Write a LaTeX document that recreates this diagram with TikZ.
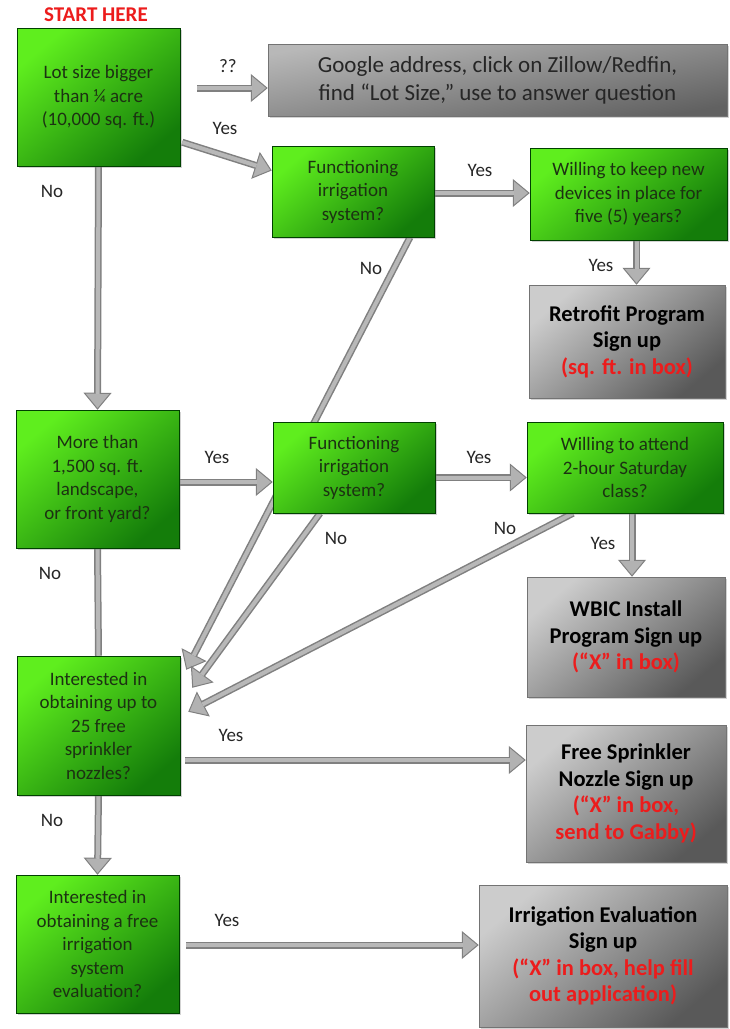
\documentclass[tikz,border=0pt]{standalone}
\usepackage{fontspec}
\setmainfont{Carlito}
\usetikzlibrary{arrows.meta, shadows, backgrounds}

\definecolor{gbright}{RGB}{95,238,30}
\definecolor{gdark}{RGB}{20,125,10}
\definecolor{gtext}{RGB}{28,50,18}
\definecolor{signred}{RGB}{236,28,28}
\newcommand{\signnote}[1]{\textcolor{signred}{#1}}

\begin{document}
\begin{tikzpicture}[
    x=1pt, y=-1pt,
    % Fragen: gruene Kaesten mit Verlauf
    question/.style={draw=green!25!black, line width=0.5pt,
                     top color=gbright, bottom color=gdark, shading angle=40,
                     drop shadow={shadow xshift=2pt, shadow yshift=-2pt, opacity=0.35},
                     minimum width=163pt, minimum height=138pt, inner sep=0pt,
                     align=center, text=gtext, font=\fontsize{19}{23.5}\selectfont},
    % Anmeldung: graue Kaesten
    signup/.style={draw=black!55, line width=0.5pt,
                   top color=black!20, bottom color=black!65, shading angle=40,
                   drop shadow={shadow xshift=2pt, shadow yshift=-2pt, opacity=0.35},
                   inner sep=0pt, align=center, text=black,
                   font=\bfseries\fontsize{22.5}{26.5}\selectfont},
    % Hinweis oben rechts
    info/.style={signup, top color=black!28, bottom color=black!62, shading angle=10,
                 text=black!85, font=\fontsize{23}{28}\selectfont},
    % Dicke graue Linie (ohne Spitze)
    pipebody/.style={draw=black!50, line width=7pt,
                     postaction={draw=black!28, line width=4pt, -, shorten >=#1}},
    pipebody/.default=0pt,
    % Dicke graue Pfeile
    pipe/.style={pipebody=16pt,
                 -{Triangle[width=28pt, length=17pt, fill=black!30, line width=1pt]}},
    % Antworten an den Pfeilen
    answer/.style={text=black!85, font=\fontsize{19}{23}\selectfont},
    start/.style={text=signred, font=\bfseries\fontsize{21}{25}\selectfont}
]

\useasboundingbox (0,0) rectangle (729,1029);

% --- OBERE REIHE ---
\node[start] (begin) at (96,15) {START HERE};
\node[question] (lot) at (98.5,97) {Lot size bigger\\than ¼ acre\\(10,000 sq. ft.)};
\node[info, minimum width=459pt, minimum height=72pt] (google) at (497.5,80)
    {Google address, click on Zillow/Redfin,\\find “Lot Size,” use to answer question};
\node[question, minimum width=162pt, minimum height=91pt] (func1) at (353,191.5)
    {Functioning\\irrigation\\system?};
\node[question, minimum width=197pt, minimum height=92pt] (keep) at (628.5,194)
    {Willing to keep new\\devices in place for\\five (5) years?};
\node[signup, minimum width=196pt, minimum height=113pt] (retro) at (627,341.5)
    {Retrofit Program\\Sign up\\\signnote{(sq. ft. in box)}};

% --- MITTLERE REIHE ---
\node[question] (more) at (97.5,479) {More than\\1,500 sq. ft.\\landscape,\\or front yard?};
\node[question, minimum width=162pt, minimum height=91pt] (func2) at (354,467.5)
    {Functioning\\irrigation\\system?};
\node[question, minimum width=196pt, minimum height=91pt] (class) at (625,467.5)
    {Willing to attend\\2-hour Saturday\\class?};
\node[signup, minimum width=198pt, minimum height=120pt] (wbic) at (626,637)
    {WBIC Install\\Program Sign up\\\signnote{(“X” in box)}};

% --- UNTERE REIHE ---
\node[question, minimum height=139pt] (nozzle) at (98.5,725.5)
    {Interested in\\obtaining up to\\25 free\\sprinkler\\nozzles?};
\node[signup, minimum width=200pt, minimum height=137pt] (free) at (626,793.5)
    {Free Sprinkler\\Nozzle Sign up\\\signnote{(“X” in box,}\\\signnote{send to Gabby)}};
\node[question] (evalq) at (97.5,944)
    {Interested in\\obtaining a free\\irrigation\\system\\evaluation?};
\node[signup, minimum width=248pt, minimum height=142pt] (evals) at (603,956)
    {Irrigation Evaluation\\Sign up\\\signnote{(“X” in box, help fill}\\\signnote{out application)}};

% Beschriftungen
\node[answer] (ask) at (228,66) {??};
\node[answer] (yes1) at (225,128) {Yes};
\node[answer] (no1) at (52,191) {No};
\node[answer] (yes2) at (480,170) {Yes};
\node[answer] (no2) at (371,268) {No};
\node[answer] (yes3) at (601,265) {Yes};
\node[answer] (yes4) at (217,457) {Yes};
\node[answer] (yes5) at (479,457) {Yes};
\node[answer] (no3) at (336,538) {No};
\node[answer] (no4) at (505,528) {No};
\node[answer] (yes6) at (603,543) {Yes};
\node[answer] (no5) at (50,573) {No};
\node[answer] (yes7) at (231,735) {Yes};
\node[answer] (no6) at (52,820) {No};
\node[answer] (yes8) at (227,920) {Yes};

% Pfeile hinter den Kaesten
\begin{scope}[on background layer]
    \draw[pipe] ([xshift=17pt,yshift=-8pt]lot.east |- google.west) -- ([yshift=-8pt]google.west);
    \draw[pipe] ([xshift=2pt,yshift=24pt]lot.south east) -- ([yshift=21pt]func1.west);
    \draw[pipe] ([yshift=-1.5pt]func1.east) -- ([yshift=-1.5pt]func1.east -| keep.west);
    \draw[pipe] ([xshift=8pt]keep.south) -- ([xshift=8pt]keep.south |- retro.north);
    \draw[pipe] (lot.south) -- (more.north);
    \draw[pipe] ([xshift=57pt]func1.south) -- ([xshift=6pt,yshift=-14pt]nozzle.north east); % laeuft hinter func2
    \draw[pipe] ([yshift=-3pt]more.east) -- ([yshift=-3pt]more.east -| func2.west);
    \draw[pipe] ([yshift=-10pt]func2.east) -- ([yshift=-10pt]func2.east -| class.west);
    \draw[pipe] ([xshift=7pt]class.south) -- ([xshift=7pt]class.south |- wbic.north);
    \draw[pipe] ([xshift=-34pt]func2.south) -- ([xshift=12pt,yshift=-32pt]nozzle.north east);
    \draw[pipe] ([xshift=-52pt]class.south) -- ([xshift=8pt,yshift=-56pt]nozzle.north east);
    \draw[pipebody] (more.south) -- (nozzle.north);
    \draw[pipe] ([xshift=5pt,yshift=-34.5pt]nozzle.east) -- ([yshift=-34.5pt]nozzle.east -| free.west);
    \draw[pipe] (nozzle.south) -- (evalq.north);
    \draw[pipe] ([xshift=7pt,yshift=-1pt]evalq.east) -- ([yshift=-1pt]evalq.east -| evals.west);
\end{scope}

\end{tikzpicture}
\end{document}
